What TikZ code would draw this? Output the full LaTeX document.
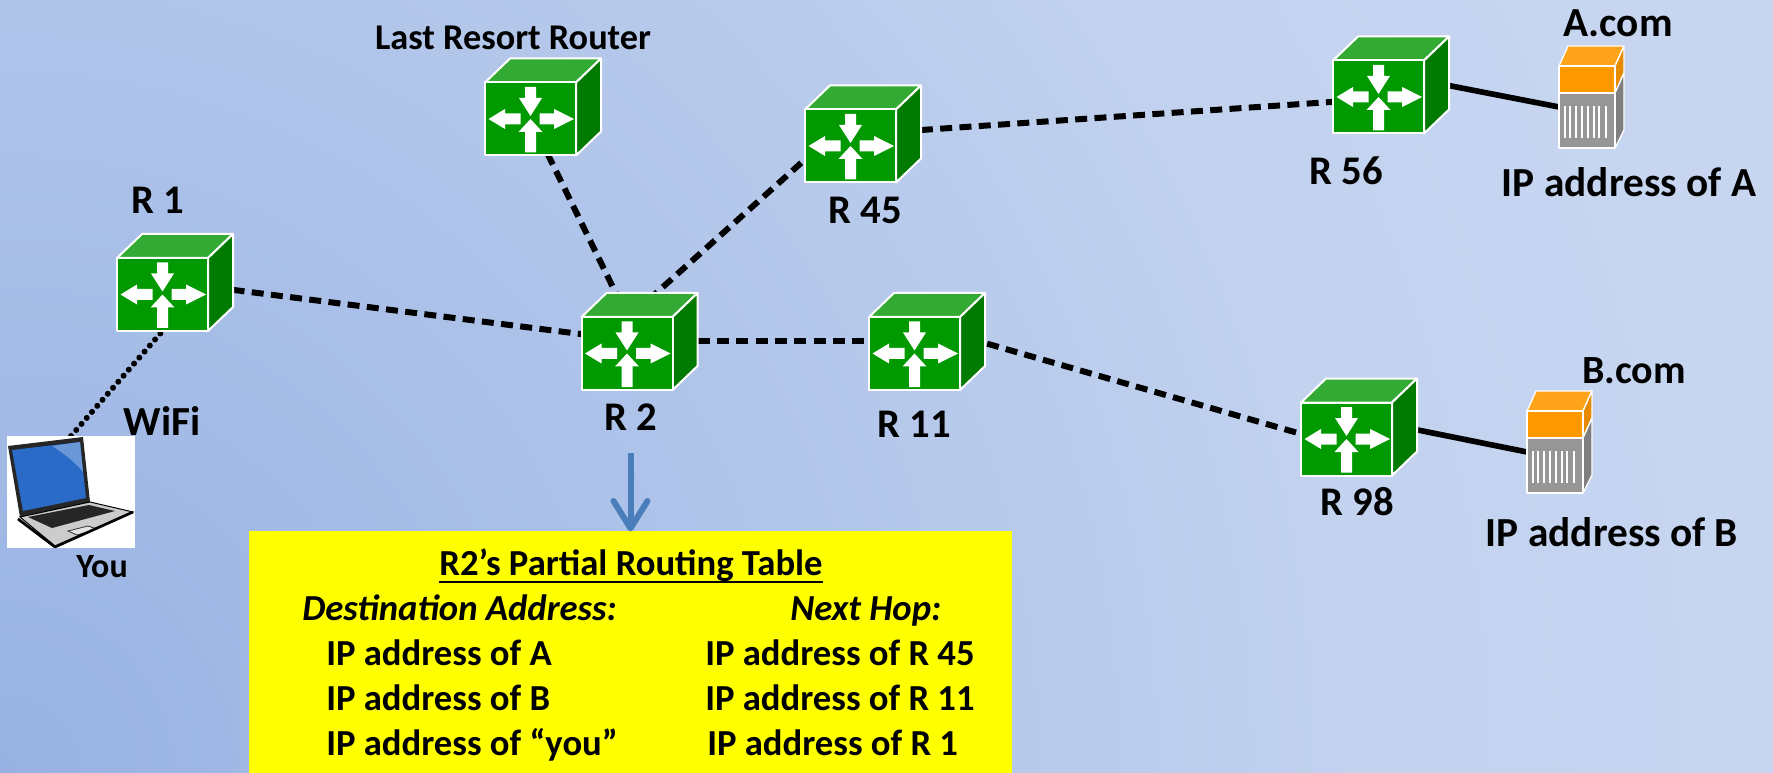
\documentclass[tikz,border=0pt]{standalone}
\usepackage{fontspec}
\setmainfont{Carlito}
\usetikzlibrary{calc}

\pgfdeclarelayer{back}
\pgfdeclarelayer{links}
\pgfsetlayers{back,links,main}

\definecolor{bgdark}{HTML}{97B2E2}
\definecolor{bgmid}{HTML}{C2D2EF}
\definecolor{bglight}{HTML}{DDE4F5}
\definecolor{rfront}{HTML}{009900}
\definecolor{rtop}{HTML}{33AA33}
\definecolor{rside}{HTML}{007A00}
\definecolor{sorange}{HTML}{FF9900}
\definecolor{sorangetop}{HTML}{FFA31A}
\definecolor{sorangeside}{HTML}{E68A00}
\definecolor{sgray}{HTML}{969696}
\definecolor{sgrayside}{HTML}{7F7F7F}
\definecolor{arrowblue}{HTML}{4A7EBB}
\definecolor{screenblue}{HTML}{2A6BC8}
\definecolor{tblyellow}{HTML}{FFFF00}

\pgfdeclareradialshading{backdrop}{\pgfpointorigin}{color(0bp)=(bgdark); color(17bp)=(bgmid); color(46bp)=(bglight); color(50bp)=(bglight)}

\tikzset{
  link/.style={line width=4.5pt, dash pattern=on 9pt off 5.5pt},
  wire/.style={line width=4.25pt},
  wifi/.style={line width=4.5pt, line cap=round, dash pattern=on 0pt off 6pt},
  lbl/.style={font=\bfseries\fontsize{30.5}{36}\selectfont, anchor=base, inner sep=0pt},
  tbltext/.style={font=\bfseries\fontsize{27.5}{32}\selectfont, anchor=base west, inner sep=0pt},
  tarrow/.style={draw=arrowblue, line width=4.5pt},
  router/.pic={
    \node[minimum width=68.25pt, minimum height=54.75pt, inner sep=0pt, outer sep=0pt] (-f) at (0,0) {};
    \coordinate (-c) at (12.5,-12);
    \begin{scope}[draw=white, line width=1.5pt, line join=round]
      \filldraw[fill=rtop] (-45.5,-36.5) -- (-20.5,-60.5) -- (70.5,-60.5) -- (45.5,-36.5) -- cycle;
      \filldraw[fill=rside] (45.5,-36.5) -- (70.5,-60.5) -- (70.5,12.5) -- (45.5,36.5) -- cycle;
      \filldraw[fill=rfront] (-45.5,-36.5) rectangle (45.5,36.5);
    \end{scope}
    \fill[white] (-5.5,-32) -- (5.5,-32) -- (5.5,-21) -- (11.5,-21) -- (0,-3) -- (-11.5,-21) -- (-5.5,-21) -- cycle;
    \fill[white] (-5.5,33.5) -- (5.5,33.5) -- (5.5,13) -- (12,13) -- (0,0) -- (-12,13) -- (-5.5,13) -- cycle;
    \fill[white] (-10,-5.5) -- (-10,5.5) -- (-25.5,5.5) -- (-25.5,10) -- (-42,0) -- (-25.5,-10) -- (-25.5,-5.5) -- cycle;
    \fill[white] (9,-5.5) -- (23.5,-5.5) -- (23.5,-10) -- (43.5,0) -- (23.5,10) -- (23.5,5.5) -- (9,5.5) -- cycle;
  },
  server/.pic={
    \node[minimum width=42pt, minimum height=61.5pt, inner sep=0pt, outer sep=0pt] (-f) at (0,0) {};
    \begin{scope}[draw=white, line width=1pt, line join=round]
      \filldraw[fill=sorangetop] (-28,-41) -- (-19,-61) -- (37,-61) -- (28,-41) -- cycle;
      \filldraw[fill=sorangeside] (28,-41) -- (37,-61) -- (37,-34) -- (28,-14) -- cycle;
      \filldraw[fill=sgrayside] (28,-14) -- (37,-34) -- (37,23) -- (28,41) -- cycle;
      \filldraw[fill=sorange] (-28,-41) rectangle (28,-14);
      \filldraw[fill=sgray] (-28,-14) rectangle (28,41);
    \end{scope}
    \foreach \sx in {-22,-17,-11,-5,1,7,12,19}
      \draw[white, line width=1.5pt] (\sx,-1) -- (\sx,31);
  }
}

\begin{document}
\begin{tikzpicture}[x=0.75pt, y=-0.75pt]
\useasboundingbox (0,0) rectangle (1773,773);

% backdrop
\begin{pgfonlayer}{back}
  \begin{scope}
    \clip (0,0) rectangle (1773,773);
    \shade[shading=backdrop] (0,773) circle (2000);
  \end{scope}
\end{pgfonlayer}

% routers
\pic (r1)  at (162.5,294.5) {router};
\pic (lr)  at (530.5,119)   {router};
\pic (r45) at (850.5,146)   {router};
\pic (r56) at (1378.5,97)   {router};
\pic (r2)  at (627,353.5)   {router};
\pic (r11) at (914.5,353.5) {router};
\pic (r98) at (1346.5,439)  {router};

% servers
\pic (srva) at (1587,107) {server};
\pic (srvb) at (1555,452) {server};

% laptop
\node[fill=white, minimum width=96pt, minimum height=84pt, inner sep=0pt, outer sep=0pt] (laptop) at (71,492) {};
\fill[black!85] (8,446) -- (83,437) -- (90,502) -- (20,517) -- cycle;
\fill[screenblue] (12,450) -- (80,442) -- (86,498) -- (23,511) -- cycle;
\fill[screenblue!70!white] (52,446) -- (80,442) -- (83,472) .. controls (75,462) and (62,452) .. cycle;
\filldraw[fill=black!20, draw=black, line width=0.75pt] (20,517) -- (90,502) -- (133,512) -- (55,546) -- cycle;
\fill[black!85] (28,517) -- (89,505) -- (115,511) -- (52,528) -- cycle;
\filldraw[fill=black!10, draw=black!80, line width=0.6pt] (68,531) -- (88,526) -- (97,529) -- (77,535) -- cycle;
\draw[black, line width=2pt, line join=round] (18,519) -- (55,547) -- (133,512);

% connectors
\begin{pgfonlayer}{links}
  \draw[link] (r1-c) -- (r2-c);
  \draw[link] (lr-f.center) -- (r2-c);
  \draw[link] ([shift={(-20.5,-9)}]r45-f.center) -- ([shift={(-12,-23.5)}]r2-f.center);
  \draw[link] (r45-c) -- ([shift={(-18.5,3)}]r56-f.center);
  \draw[link] (r2-c) -- (r11-c);
  \draw[link] ([shift={(35.5,-20.5)}]r11-f.center) -- ([shift={(0,8)}]r98-f.center);
  \draw[wire] ([shift={(31.5,-19)}]r56-f.center) -- (srva-f.west);
  \draw[wire] ([shift={(33.5,-16.6)}]r98-f.center) -- (srvb-f.west);
  \draw[wifi] (laptop.north) -- (r1-f.south);
\end{pgfonlayer}

% labels
\node[lbl, font=\bfseries\fontsize{27.2}{32}\selectfont] (lrlabel) at (513,50) {Last Resort Router};
\node[lbl] (r1label)  at (158,214)  {R 1};
\node[lbl] (r45label) at (865,224)  {R 45};
\node[lbl] (r56label) at (1346,185) {R 56};
\node[lbl] (r2label)  at (631,430)  {R 2};
\node[lbl] (r11label) at (914,437)  {R 11};
\node[lbl] (r98label) at (1357,515) {R 98};
\node[lbl, font=\bfseries\fontsize{31}{36}\selectfont] (wifilabel) at (162,435) {WiFi};
\node[lbl, font=\bfseries\fontsize{25.5}{30}\selectfont] (youlabel) at (102,577) {You};
\node[lbl, font=\bfseries\fontsize{31}{37}\selectfont] (alabel)   at (1618,37)  {A.com};
\node[lbl, font=\bfseries\fontsize{31}{37}\selectfont] (aiplabel) at (1629,197) {IP address of A};
\node[lbl, font=\bfseries\fontsize{30}{37}\selectfont] (blabel)   at (1634,383) {B.com};
\node[lbl, font=\bfseries\fontsize{31}{37}\selectfont] (biplabel) at (1612,546) {IP address of B};

% routing table
\node[fill=tblyellow, minimum width=572.25pt, minimum height=181.5pt, inner sep=0pt, outer sep=0pt] (tbl) at (630.5,652) {};
\coordinate (arrtop) at (630.5,453);
\draw[tarrow] (arrtop) -- ([yshift=2pt]tbl.north);
\draw[tarrow, line cap=round, line join=round] ([shift={(-17,-30)}]tbl.north) -- ([yshift=2pt]tbl.north) -- ([shift={(17,-30)}]tbl.north);

\node[font=\bfseries\fontsize{27.5}{32}\selectfont, anchor=base, inner sep=0pt] (ttl) at (631,575) {R2’s Partial Routing Table};
\draw[line width=1.5pt] ([yshift=-5.5pt]ttl.base west) -- ([yshift=-5.5pt]ttl.base east);
\node[tbltext, font=\bfseries\itshape\fontsize{27.5}{32}\selectfont] (hdest) at (302,620) {Destination Address:};
\node[tbltext, font=\bfseries\itshape\fontsize{27.5}{32}\selectfont] (hnext) at (790,620) {Next Hop:};
\node[tbltext] (da) at (326,665) {IP address of A};
\node[tbltext] (db) at (326,710) {IP address of B};
\node[tbltext] (dy) at (326,755) {IP address of “you”};
\node[tbltext] (na) at (705,665) {IP address of R 45};
\node[tbltext] (nb) at (705,710) {IP address of R 11};
\node[tbltext] (ny) at (707,755) {IP address of R 1};
\end{tikzpicture}
\end{document}
